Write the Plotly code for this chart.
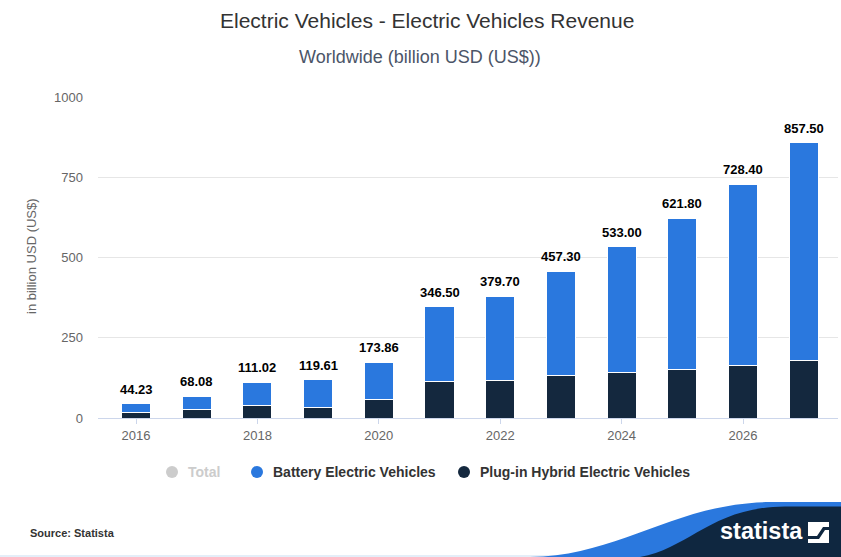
import plotly.graph_objects as go

# ---- data -------------------------------------------------------------
years = [2016, 2017, 2018, 2019, 2020, 2021, 2022, 2023, 2024, 2025, 2026, 2027]
total = [44.23, 68.08, 111.02, 119.61, 173.86, 346.50, 379.70, 457.30, 533.00, 621.80, 728.40, 857.50]
bev = [27.23, 43.08, 73.02, 86.61, 115.86, 231.50, 263.70, 326.30, 391.00, 469.80, 565.40, 679.50]
phev = [17.0, 25.0, 38.0, 33.0, 58.0, 115.0, 116.0, 131.0, 142.0, 152.0, 163.0, 178.0]
y_ticks = [0, 250, 500, 750, 1000]
x_ticks = [2016, 2018, 2020, 2022, 2024, 2026]

# ---- geometry of the canvas -------------------------------------------
W, H = 841, 557
L, R, T, B = 98, 3, 97, 139
PW, PH = W - L - R, H - T - B

def px(x):
    return (x - L) / PW

def py(y):
    return (H - B - y) / PH

BEV_COLOR = "#2a78de"
PHEV_COLOR = "#14283e"
FONT = "Liberation Sans, Arial, sans-serif"

fig = go.Figure()
fig.add_trace(go.Bar(x=years, y=phev, name="Plug-in Hybrid Electric Vehicles",
                     marker=dict(color=PHEV_COLOR, line=dict(color="#ffffff", width=1)),
                     showlegend=False, hoverinfo="skip"))
fig.add_trace(go.Bar(x=years, y=bev, name="Battery Electric Vehicles",
                     marker=dict(color=BEV_COLOR, line=dict(color="#ffffff", width=1)),
                     showlegend=False, hoverinfo="skip"))

annotations = []
# value labels above the stacks
for yr, tot in zip(years, total):
    annotations.append(dict(x=yr, y=tot, xref="x", yref="y", text=f"{tot:.2f}",
                            showarrow=False, yanchor="bottom", yshift=5,
                            font=dict(family=FONT, size=13, color="#000000", weight="bold")))

# titles
annotations.append(dict(x=px(427), y=py(20), xref="paper", yref="paper",
                        text="Electric Vehicles - Electric Vehicles Revenue", showarrow=False,
                        xanchor="center", yanchor="middle",
                        font=dict(family=FONT, size=21, color="#333333")))
annotations.append(dict(x=px(420), y=py(57), xref="paper", yref="paper",
                        text="Worldwide (billion USD (US$))", showarrow=False,
                        xanchor="center", yanchor="middle",
                        font=dict(family=FONT, size=18, color="#4b5568")))
# y-axis title
annotations.append(dict(x=px(31), y=py(256), xref="paper", yref="paper",
                        text="in billion USD (US$)", showarrow=False, textangle=-90,
                        xanchor="center", yanchor="middle",
                        font=dict(family=FONT, size=13, color="#666666")))

# legend
shapes = []
legend_items = [("Total", "#cccccc", "#cccccc", 172),
                ("Battery Electric Vehicles", BEV_COLOR, "#333333", 257),
                ("Plug-in Hybrid Electric Vehicles", PHEV_COLOR, "#333333", 464)]
for label, mcol, tcol, cx in legend_items:
    r = 6
    shapes.append(dict(type="circle", xref="paper", yref="paper",
                       x0=px(cx - r), x1=px(cx + r), y0=py(472 + r), y1=py(472 - r),
                       fillcolor=mcol, line=dict(width=0)))
    annotations.append(dict(x=px(cx + 14), y=py(472), xref="paper", yref="paper",
                            text=label, showarrow=False, xanchor="left", yanchor="middle",
                            font=dict(family=FONT, size=14, color=tcol, weight="bold")))

# source note
annotations.append(dict(x=px(28), y=py(533), xref="paper", yref="paper",
                        text="Source: Statista", showarrow=False, xanchor="left", yanchor="middle",
                        font=dict(family=FONT, size=11, color="#333333", weight="bold")))

# footer band with the brand wave
shapes.append(dict(type="line", xref="paper", yref="paper",
                   x0=px(0), x1=px(600), y0=py(556), y1=py(556),
                   line=dict(color="#dbe8f6", width=1.5)))
blue_path = (f"M {px(530)} {py(557)} C {px(620)} {py(556)}, {px(675)} {py(503)}, {px(770)} {py(502)} "
             f"L {px(841)} {py(502)} L {px(841)} {py(557)} Z")
navy_path = (f"M {px(640)} {py(557)} C {px(690)} {py(548)}, {px(712)} {py(507)}, {px(785)} {py(506.5)} "
             f"L {px(841)} {py(506.5)} L {px(841)} {py(557)} Z")
shapes.append(dict(type="path", xref="paper", yref="paper", path=blue_path,
                   fillcolor="#2a78de", line=dict(width=0), layer="above"))
shapes.append(dict(type="path", xref="paper", yref="paper", path=navy_path,
                   fillcolor="#0f2740", line=dict(width=0), layer="above"))
# brand icon
shapes.append(dict(type="rect", xref="paper", yref="paper",
                   x0=px(808), x1=px(829), y0=py(543), y1=py(522),
                   fillcolor="#ffffff", line=dict(width=0), layer="above"))
icon_cut = (f"M {px(808)} {py(536)} L {px(817)} {py(536)} L {px(823)} {py(527)} L {px(829)} {py(527)} "
            f"L {px(829)} {py(530)} L {px(825)} {py(530)} L {px(819)} {py(539)} L {px(808)} {py(539)} Z")
shapes.append(dict(type="path", xref="paper", yref="paper", path=icon_cut,
                   fillcolor="#0f2740", line=dict(width=0), layer="above"))
annotations.append(dict(x=px(761), y=py(531), xref="paper", yref="paper",
                        text="statista", showarrow=False, xanchor="center", yanchor="middle",
                        font=dict(family="Liberation Sans Narrow, Arial Narrow, sans-serif",
                                  size=23.5, color="#ffffff", weight="bold")))

fig.update_layout(
    width=W, height=H,
    margin=dict(l=L, r=R, t=T, b=B),
    paper_bgcolor="#ffffff", plot_bgcolor="#ffffff",
    barmode="stack", bargap=0.52,
    showlegend=False,
    annotations=annotations,
    shapes=shapes,
    font=dict(family=FONT),
)
fig.update_xaxes(
    range=[2015.374, 2027.565], tickmode="array", tickvals=x_ticks,
    ticktext=[str(v) for v in x_ticks],
    showline=True, linecolor="#ccd6eb", linewidth=1,
    ticks="outside", ticklen=5, tickcolor="#ccd6eb",
    showgrid=False, zeroline=False,
    tickfont=dict(family=FONT, size=13, color="#666666"),
)
fig.update_yaxes(
    range=[0, 1000], tickmode="array", tickvals=y_ticks,
    ticktext=[str(v) for v in y_ticks],
    showgrid=True, gridcolor="#e6e6e6", gridwidth=1,
    zeroline=False, showline=False,
    ticklabelstandoff=14,
    tickfont=dict(family=FONT, size=13, color="#666666"),
)

fig.write_html("out.html")
